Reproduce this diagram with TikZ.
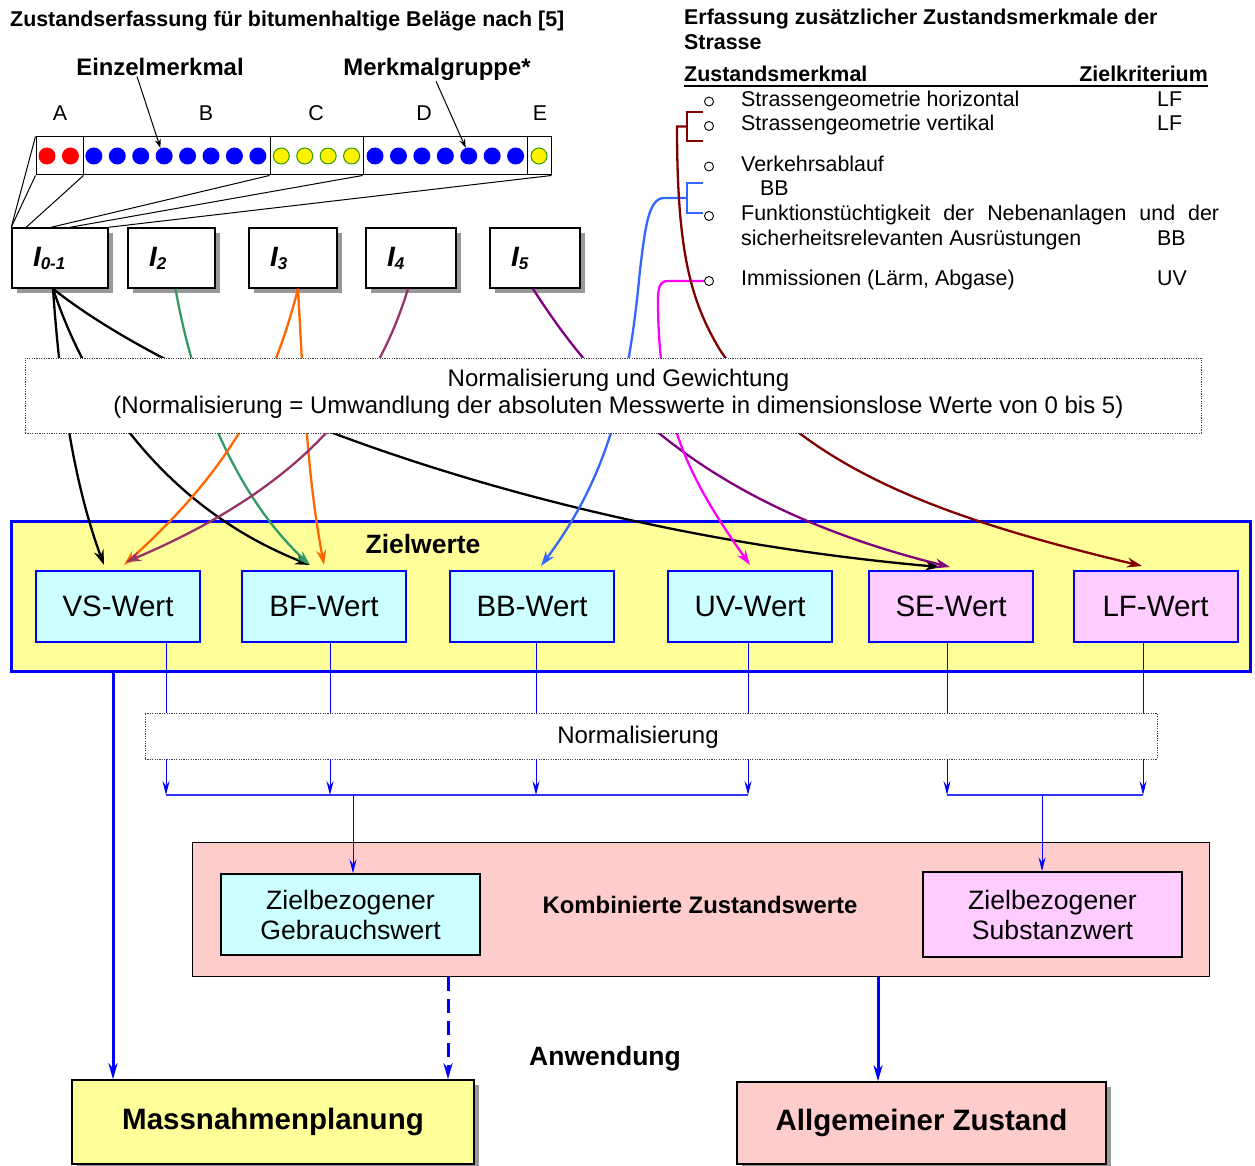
\documentclass[tikz,border=0pt]{standalone}
\usepackage{fontspec}
\setmainfont{Liberation Sans}
\usetikzlibrary{arrows.meta,shadows,positioning}
\definecolor{zgelb}{HTML}{FFFF99}
\definecolor{zcyan}{HTML}{CCFFFF}
\definecolor{zpink}{HTML}{FFCCFF}
\definecolor{zrosa}{HTML}{FFCCCC}
\definecolor{zgreen}{HTML}{339966}
\definecolor{zorange}{HTML}{FF6600}
\definecolor{zplum}{HTML}{993366}
\definecolor{zpurple}{HTML}{800080}
\definecolor{zblue}{HTML}{3366FF}
\definecolor{zdarkred}{HTML}{800000}
\definecolor{zolive}{HTML}{339900}
\definecolor{zmagenta}{HTML}{FF00FF}
\newcommand\fsz[2]{\fontsize{#1}{#2}\selectfont}
\newcommand\ilab[1]{\textbf{\textit{I\raisebox{-3pt}{\fsz{17}{17}#1}}}}

\begin{document}
\begin{tikzpicture}[x=1pt,y=-1pt,
  ibox/.style={draw,line width=1.5pt,fill=white,minimum height=60pt,inner xsep=21pt,text width=#1,align=left,font=\fsz{28}{30},general shadow={fill=black!40,shadow xshift=5pt,shadow yshift=-5pt}},
  seg/.style={draw,line width=1pt,minimum height=38pt,minimum width=#1,inner sep=0},
  rpunkt/.style={circle,fill=red,minimum size=17pt,inner sep=0},
  bpunkt/.style={circle,fill=blue,minimum size=17pt,inner sep=0},
  gpunkt/.style={circle,fill=yellow,draw=zolive,line width=1pt,minimum size=16pt,inner sep=0},
  punkt/.style={circle,draw,line width=0.9pt,minimum size=9pt,inner sep=0},
  listtxt/.style={anchor=base west,inner sep=0,font=\fsz{21.4}{24}},
  wert/.style={draw=blue,line width=2pt,fill=zcyan,minimum width=164pt,minimum height=71pt,font=\fsz{29.5}{30},inner sep=0},
  normbox/.style={draw=black!75,dash pattern=on 1.2pt off 1.2pt,line width=0.8pt,fill=white,inner sep=0},
  zbox/.style={draw,line width=1.5pt,minimum width=259pt,minimum height=81pt,align=center,font=\fsz{26.6}{30},inner sep=0},
  endbox/.style={draw,line width=1.5pt,font=\bfseries\fsz{29.5}{32},inner sep=0,general shadow={fill=black!40,shadow xshift=5pt,shadow yshift=-5pt}},
  fan/.style={line width=1pt},
  pfeil/.style={line width=1pt,-{Stealth[length=9pt,width=6pt,inset=3pt]}},
  kurve/.style={line width=2.3pt,-{Stealth[length=15pt,width=10pt,inset=5pt]}},
  fein/.style={blue,line width=1pt},
  feinpfeil/.style={blue,line width=1pt,-{Stealth[length=14pt,width=7pt,inset=5pt]}},
  dick/.style={blue,line width=3pt,-{Stealth[length=16pt,width=9pt,inset=5pt]}}]
\useasboundingbox (0,0) rectangle (1255,1166);

% Titel
\node[anchor=base west,inner sep=0,font=\bfseries\fsz{21.4}{24}] (titel1) at (10,26.5) {Zustandserfassung für bitumenhaltige Beläge nach [5]};
\node[anchor=base west,inner sep=0,font=\bfseries\fsz{21.4}{24}] (titel2a) at (684,25) {Erfassung zusätzlicher Zustandsmerkmale der};
\node[anchor=base west,inner sep=0,font=\bfseries\fsz{21.4}{24}] (titel2b) at (684,50) {Strasse};

% Merkmale links
\node[anchor=base,inner sep=0,font=\bfseries\fsz{23.9}{26}] (einz) at (160,76) {Einzelmerkmal};
\node[anchor=base,inner sep=0,font=\bfseries\fsz{23.9}{26}] (mgr) at (437,76) {Merkmalgruppe*};
\foreach \x/\l in {60/A,206/B,316/C,424/D,540/E}
  \node[anchor=base,inner sep=0,font=\fsz{21.4}{24}] (L\l) at (\x,121) {\l};
\node[seg=47pt] (sA) at (59.5,156) {};
\node[seg=187pt] (sB) at (176.5,156) {};
\node[seg=93pt] (sC) at (316.5,156) {};
\node[seg=164pt] (sD) at (445,156) {};
\node[seg=24pt] (sE) at (539,156) {};
\foreach \a/\b/\s in {0/1/rpunkt,2/9/bpunkt,10/13/gpunkt,14/20/bpunkt,21/21/gpunkt}
  \foreach \i in {\a,...,\b}
    \node[\s] (d\i) at ({47+23.43*\i},156) {};
\draw[pfeil] ([xshift=-23pt]einz.south) -- (d5.115);
\draw[pfeil] ([xshift=-1pt]mgr.south) -- (d18.110);

% Indizes
\node[ibox=54pt] (I01) at (60,258) {\ilab{0-1}};
\node[ibox=45pt] (I2) at (171.5,258) {\ilab{2}};
\node[ibox=46pt] (I3) at (293,258) {\ilab{3}};
\node[ibox=48pt] (I4) at (411,258) {\ilab{4}};
\node[ibox=48pt] (I5) at (535,258) {\ilab{5}};
\draw[fan] (sA.north west) -- (I01.north west);\draw[fan] (sA.south west) -- (I01.north west);
\draw[fan] (sA.south east) -- ([xshift=15pt]I01.north west);
\draw[fan] (sC.south west) -- ([xshift=40pt]I01.north west);
\draw[fan] (sD.south west) -- ([xshift=59pt]I01.north west);
\draw[fan] (sE.south east) -- (I01.north east);

% Zusaetzliche Merkmale rechts
\node[anchor=base west,inner sep=0,font=\bfseries\fsz{21.4}{24}] (hmerk) at (684,82) {Zustandsmerkmal};
\node[anchor=base east,inner sep=0,font=\bfseries\fsz{21.4}{24}] (hziel) at (1208,82) {Zielkriterium};
\draw[line width=2.5pt] ([yshift=-4pt]hmerk.base west) -- ([yshift=-4pt]hziel.base east);
\foreach \y [count=\i] in {101.5,126,166.5,216,281}
  \node[punkt] (p\i) at (709,\y) {};
\node[listtxt] (t1) at (741,107) {Strassengeometrie horizontal};
\node[listtxt] (t2) at (741,131) {Strassengeometrie vertikal};
\node[listtxt] (t3) at (741,172) {Verkehrsablauf};
\node[listtxt] (t3b) at (760,196) {BB};
\node[listtxt] (t4) at (741,221) {\makebox[478pt][s]{Funktionstüchtigkeit der Nebenanlagen und der}};
\node[listtxt] (t4b) at (741,246) {sicherheitsrelevanten Ausrüstungen};
\node[listtxt] (t5) at (741,286) {Immissionen (Lärm, Abgase)};
\node[listtxt] (k1) at (1157,107) {LF};\node[listtxt] (k2) at (1157,131) {LF};
\node[listtxt] (k4) at (1157,246) {BB};\node[listtxt] (k5) at (1157,286) {UV};
\coordinate (kl1) at (687,126.5);\coordinate (kl2) at (687,198);
\draw[zdarkred,line width=2pt] (703,112) -| (687,141) -- (703,141);
\draw[zblue,line width=2pt] (703,183) -| (687,213) -- (703,213);

% Zielwerte
\node[draw=blue,line width=3pt,fill=zgelb,minimum width=1239pt,minimum height=150pt,inner sep=0] (ziel) at (630.5,596) {};
\node[font=\bfseries\fsz{26.5}{28}] (zielt) at (423,544) {Zielwerte};
\node[wert] (VS) at (118,606.5) {VS-Wert};
\node[wert] (BF) at (324,606.5) {BF-Wert};
\node[wert] (BB) at (532,606.5) {BB-Wert};
\node[wert] (UV) at (750,606.5) {UV-Wert};
\node[wert,fill=zpink] (SE) at (951,606.5) {SE-Wert};
\node[wert,fill=zpink] (LF) at (1155.5,606.5) {LF-Wert};

% Zuordnung
\draw[kurve] ([xshift=-7pt]I01.south) .. controls (62,420) and (80,500) .. ([xshift=-14pt,yshift=5pt]VS.north);
\draw[kurve] ([xshift=-7pt]I01.south) .. controls (90,400) and (170,510) .. ([xshift=-14pt,yshift=5pt]BF.north);
\draw[kurve] ([xshift=-7pt]I01.south) .. controls (180,390) and (520,530) .. ([xshift=-11pt,yshift=3pt]SE.north);
\draw[kurve,zgreen] ([xshift=4pt]I2.south) .. controls (195,400) and (240,500) .. ([xshift=-14pt,yshift=5pt]BF.north);
\draw[kurve,zorange] ([xshift=5pt]I3.south) .. controls (272,390) and (230,470) .. ([xshift=6pt,yshift=5pt]VS.north);
\draw[kurve,zorange] ([xshift=5pt]I3.south) .. controls (304,400) and (308,480) .. ([yshift=5pt]BF.north);
\draw[kurve,zplum] ([xshift=-3pt]I4.south) .. controls (380,380) and (320,480) .. ([xshift=8pt,yshift=8pt]VS.north);
\draw[kurve,zpurple] ([xshift=-2pt]I5.south) .. controls (610,410) and (720,510) .. ([xshift=-1pt,yshift=3pt]SE.north);
\draw[kurve,zblue] (kl2) -- (664,198) .. controls (648,198) and (645,230) .. (640,270) .. controls (628,400) and (605,480) .. ([xshift=9pt,yshift=4pt]BB.north);
\draw[kurve,zmagenta] (p5.west) -- (668,281) .. controls (660,281) and (658,287) .. (658,300) .. controls (658,420) and (690,480) .. ([yshift=5pt]UV.north);
\draw[kurve,zdarkred] (kl1) -- (677,126.5) .. controls (677,250) and (690,300) .. (720,350) .. controls (800,470) and (950,520) .. ([xshift=-13.5pt,yshift=4pt]LF.north);

\node[normbox,minimum width=1176pt,minimum height=75pt] (norm1) at (613,395.5) {};
\node[font=\fsz{24}{27},align=center] (norm1t) at (618.5,394) {Normalisierung und Gewichtung\\(Normalisierung = Umwandlung der absoluten Messwerte in dimensionslose Werte von 0 bis 5)};

% Normalisierung und Kombination
\node[normbox,minimum width=1012pt,minimum height=46pt] (norm2) at (651,736) {};
\node[font=\fsz{24}{27}] (norm2t) at (638,737) {Normalisierung};
\coordinate (g1) at (166,795);\coordinate (g2) at (748,795);
\coordinate (s1) at (947,795);\coordinate (s2) at (1143,795);
\foreach \n/\x in {VS/166,BF/330,BB/536,UV/748,SE/947,LF/1143}{
  \draw[fein] (\n.south -| \x,0) -- (norm2.north -| \x,0);
  \draw[feinpfeil] (norm2.south -| \x,0) -- (\x,795);
}
\draw[blue!80,line width=2pt] (g1) -- (g2);\draw[blue!80,line width=2pt] (s1) -- (s2);

\node[draw,line width=1pt,fill=zrosa,minimum width=1017pt,minimum height=134pt,inner sep=0] (komb) at (700.5,909) {};
\node[font=\bfseries\fsz{23.9}{26}] (kombt) at (700,905) {Kombinierte Zustandswerte};
\node[zbox,fill=zcyan] (gebr) at (350.5,914.5) {Zielbezogener\\Gebrauchswert};
\node[zbox,fill=zpink,minimum height=85pt] (subst) at (1052.5,914.5) {Zielbezogener\\Substanzwert};
\draw[feinpfeil] ([xshift=2.5pt]gebr.north |- g1) -- ([xshift=2.5pt]gebr.north);
\draw[feinpfeil] ([xshift=-10.5pt]subst.north |- s1) -- ([xshift=-10.5pt]subst.north);

% Anwendung
\node[endbox,fill=zgelb,minimum width=402pt,minimum height=84pt] (mass) at (273,1122) {Massnahmenplanung};
\node[endbox,fill=zrosa,minimum width=369pt,minimum height=82pt] (allg) at (921.5,1123) {Allgemeiner Zustand};
\node[font=\bfseries\fsz{26.5}{29}] (anw) at (605,1059) {Anwendung};
\draw[dick] (ziel.south -| 113,0) -- (mass.north -| 113,0);
\draw[dick,dash pattern=on 14pt off 8pt] (komb.south -| 448,0) -- (mass.north -| 448,0);
\draw[dick] (komb.south -| 878,0) -- (allg.north -| 878,0);
\end{tikzpicture}
\end{document}
